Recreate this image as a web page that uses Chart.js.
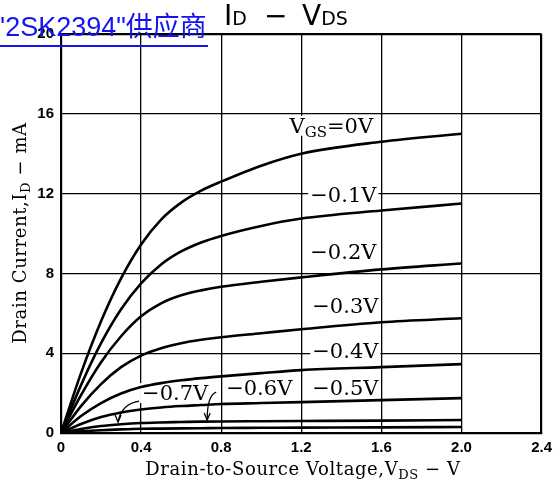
<!DOCTYPE html>
<html>
<head>
<meta charset="utf-8">
<script src="https://cdn.jsdelivr.net/npm/chart.js@4.4.1/dist/chart.umd.min.js"></script>
<style>
  html, body { margin: 0; padding: 0; background: #fff; }
  #wrap { position: relative; width: 558px; height: 488px; }
</style>
</head>
<body>
<div id="wrap"><canvas id="chart" width="558" height="488"></canvas></div>
<script>
// ID - VDS family of curves

const vds = [0, 0.1, 0.2, 0.3, 0.4, 0.5, 0.6, 0.7, 0.8, 1.0, 1.2, 1.6, 2.0];

const id_0v   = [0, 3.0, 5.6, 7.75, 9.45, 10.7, 11.55, 12.15, 12.6, 13.4, 14.0, 14.6, 15.0];
const id_m01v = [0, 2.4, 4.5, 6.2, 7.5, 8.45, 9.1, 9.55, 9.88, 10.38, 10.75, 11.15, 11.5];
const id_m02v = [0, 1.9, 3.55, 4.85, 5.85, 6.5, 6.9, 7.15, 7.33, 7.58, 7.8, 8.2, 8.5];
const id_m03v = [0, 1.35, 2.45, 3.3, 3.88, 4.25, 4.5, 4.67, 4.8, 5.0, 5.2, 5.55, 5.75];
const id_m04v = [0, 0.85, 1.5, 1.98, 2.3, 2.5, 2.64, 2.75, 2.84, 3.0, 3.15, 3.3, 3.45];
const id_m05v = [0, 0.45, 0.8, 1.03, 1.18, 1.28, 1.35, 1.4, 1.45, 1.5, 1.55, 1.65, 1.75];
const id_m06v = [0, 0.2, 0.35, 0.44, 0.5, 0.53, 0.55, 0.57, 0.58, 0.59, 0.6, 0.62, 0.65];
const id_m07v = [0, 0.08, 0.14, 0.18, 0.21, 0.22, 0.23, 0.24, 0.25, 0.26, 0.27, 0.28, 0.3];

const series = [id_0v, id_m01v, id_m02v, id_m03v, id_m04v, id_m05v, id_m06v, id_m07v];
const seriesNames = ['0V', '-0.1V', '-0.2V', '-0.3V', '-0.4V', '-0.5V', '-0.6V', '-0.7V'];

// curve labels, anchored in data units (centre of the text)
const curveLabels = [
  { text: 'V', sub: 'GS', rest: '=0V', x: 1.35, y: 15.4 },
  { text: '\u22120.1V', x: 1.41, y: 11.95 },
  { text: '\u22120.2V', x: 1.41, y: 9.05 },
  { text: '\u22120.3V', x: 1.42, y: 6.35 },
  { text: '\u22120.4V', x: 1.42, y: 4.1 },
  { text: '\u22120.5V', x: 1.42, y: 2.25 },
  { text: '\u22120.6V', x: 0.99, y: 2.25 },
  { text: '\u22120.7V', x: 0.57, y: 2.0 },
];

// pointer arrows from labels to the two lowest curves
const arrows = [
  { from: [0.39, 1.6], ctrl: [0.3, 1.45], to: [0.285, 0.55] },
  { from: [0.775, 2.05], ctrl: [0.73, 1.9], to: [0.73, 0.65] },
];

const LABEL_FONT = '21px "DejaVu Serif", serif';
const SUB_FONT = '15px "DejaVu Serif", serif';

function labelWidth(ctx, l) {
  ctx.font = LABEL_FONT;
  let w = ctx.measureText(l.text).width;
  if (l.sub) {
    ctx.font = SUB_FONT;
    w += ctx.measureText(l.sub).width;
    ctx.font = LABEL_FONT;
    w += ctx.measureText(l.rest).width;
  }
  return w;
}

// draws text with one subscript part: [main, sub, rest]
function drawSubText(ctx, parts, x, y, bigFont, smallFont, subDy) {
  ctx.font = bigFont;
  ctx.fillText(parts[0], x, y);
  x += ctx.measureText(parts[0]).width;
  ctx.font = smallFont;
  ctx.fillText(parts[1], x, y + subDy);
  x += ctx.measureText(parts[1]).width;
  ctx.font = bigFont;
  ctx.fillText(parts[2], x, y);
}

function subTextWidth(ctx, parts, bigFont, smallFont) {
  ctx.font = bigFont;
  let w = ctx.measureText(parts[0]).width + ctx.measureText(parts[2]).width;
  ctx.font = smallFont;
  return w + ctx.measureText(parts[1]).width;
}

const annotations = {
  id: 'annotations',
  beforeDatasetsDraw(chart) {
    const { ctx, scales: { x, y } } = chart;
    ctx.save();
    ctx.fillStyle = '#fff';
    curveLabels.forEach(l => {
      const w = labelWidth(ctx, l);
      const cx = x.getPixelForValue(l.x), cy = y.getPixelForValue(l.y);
      ctx.fillRect(cx - w / 2 - 2, cy - 10, w + 4, 20);
    });
    ctx.restore();
  },
  afterDatasetsDraw(chart) {
    const { ctx, scales: { x, y } } = chart;
    ctx.save();
    ctx.fillStyle = '#000';
    ctx.strokeStyle = '#000';
    ctx.textBaseline = 'alphabetic';
    curveLabels.forEach(l => {
      const w = labelWidth(ctx, l);
      const cx = x.getPixelForValue(l.x), cy = y.getPixelForValue(l.y);
      let px = cx - w / 2, base = cy + 7;
      if (l.sub) {
        drawSubText(ctx, [l.text, l.sub, l.rest], px, base, LABEL_FONT, SUB_FONT, 4);
      } else {
        ctx.font = LABEL_FONT;
        ctx.fillText(l.text, px, base);
      }
    });
    ctx.lineWidth = 1.3;
    arrows.forEach(a => {
      const fx = x.getPixelForValue(a.from[0]), fy = y.getPixelForValue(a.from[1]);
      const qx = x.getPixelForValue(a.ctrl[0]), qy = y.getPixelForValue(a.ctrl[1]);
      const tx = x.getPixelForValue(a.to[0]), ty = y.getPixelForValue(a.to[1]);
      ctx.beginPath();
      ctx.moveTo(fx, fy);
      ctx.quadraticCurveTo(qx, qy, tx, ty);
      ctx.stroke();
      ctx.beginPath();
      ctx.moveTo(tx - 3, ty - 7);
      ctx.lineTo(tx, ty);
      ctx.lineTo(tx + 3, ty - 7);
      ctx.stroke();
    });

    // title
    ctx.fillStyle = '#000';
    const tFont = '28px "DejaVu Sans", sans-serif', tSub = '19px "DejaVu Sans", sans-serif';
    drawSubText(ctx, ['I', 'D', ''], 224, 25, tFont, tSub, 0);
    ctx.font = tFont;
    ctx.fillText('\u2212', 264, 25);
    drawSubText(ctx, ['V', 'DS', ''], 302, 25, tFont, tSub, 0);

    // axis titles
    const aFont = '18px "DejaVu Serif", serif';
    const aSub = '13px "DejaVu Serif", serif';
    ctx.letterSpacing = '0.6px';
    const xParts = ['Drain-to-Source Voltage,V', 'DS', ' \u2212 V'];
    const xw = subTextWidth(ctx, xParts, aFont, aSub);
    drawSubText(ctx, xParts, 303 - xw / 2, 475, aFont, aSub, 4);

    const yParts = ['Drain Current,I', 'D', ' \u2212 mA'];
    const yw = subTextWidth(ctx, yParts, aFont, aSub);
    ctx.save();
    ctx.translate(26, 233);
    ctx.rotate(-Math.PI / 2);
    drawSubText(ctx, yParts, -yw / 2, 0, aFont, aSub, 4);
    ctx.restore();
    ctx.letterSpacing = '0px';

    // supplier link text on top
    ctx.fillStyle = '#1414f0';
    ctx.font = '27px "Liberation Sans", Arial, "Noto Sans CJK SC", sans-serif';
    ctx.fillText('\'2SK2394"\u4f9b\u5e94\u5546', 0, 36);
    ctx.fillRect(0, 45, 208, 2);
    ctx.restore();
  }
};

const datasets = series.map((s, i) => ({
  label: seriesNames[i],
  data: vds.map((v, j) => ({ x: v, y: s[j] })),
  borderColor: '#000',
  borderWidth: 2.6,
  pointRadius: 0,
  fill: false,
  cubicInterpolationMode: 'monotone',
}));

const tickFont = { family: '"Liberation Sans", Arial, sans-serif', size: 15, weight: 'bold' };

new Chart(document.getElementById('chart'), {
  type: 'line',
  data: { datasets },
  options: {
    responsive: false,
    animation: false,
    layout: { padding: { left: 0, top: 34, right: 13, bottom: 0 } },
    plugins: { legend: { display: false }, tooltip: { enabled: false } },
    scales: {
      x: {
        type: 'linear', min: 0, max: 2.4,
        afterFit: s => { s.height = 55; },
        ticks: {
          stepSize: 0.4, color: '#000', font: tickFont, padding: 6, maxRotation: 0,
          callback: v => v === 0 ? '0' : v.toFixed(1)
        },
        grid: {
          color: '#000', drawTicks: false,
          lineWidth: c => (c.tick && Math.abs(c.tick.value - 2.4) < 1e-6) ? 2.2 : 1.3
        },
        border: { color: '#000', width: 2.2 }
      },
      y: {
        min: 0, max: 20,
        afterFit: s => { s.width = 61; },
        ticks: { stepSize: 4, color: '#000', font: tickFont, padding: 7 },
        grid: {
          color: '#000', drawTicks: false,
          lineWidth: c => (c.tick && c.tick.value === 20) ? 2.2 : 1.3
        },
        border: { color: '#000', width: 2.2 }
      }
    }
  },
  plugins: [annotations]
});
</script>
</body>
</html>
